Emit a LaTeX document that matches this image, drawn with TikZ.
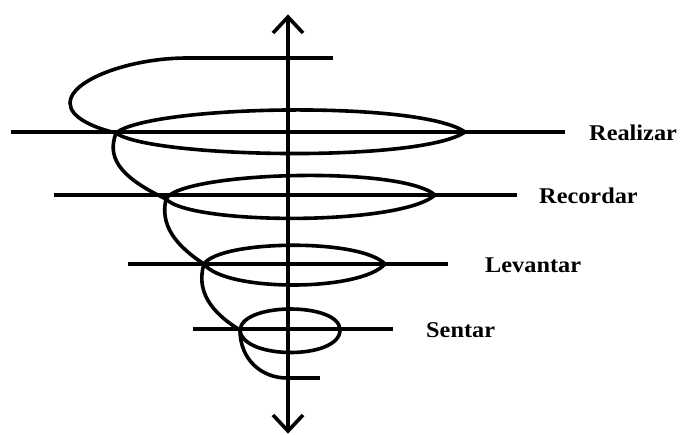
\documentclass[tikz,border=0pt]{standalone}
\usepackage{fontspec}
\setmainfont{Liberation Serif}
\begin{document}
\begin{tikzpicture}[x=1pt,y=-1pt,
  stroke/.style={line width=3.6pt,line cap=butt,line join=round},
  levelline/.style={line width=3.4pt},
  lbl/.style={anchor=base west,inner sep=0pt,font=\bfseries\fontsize{22.5}{22.5}\selectfont,xscale=1.08}]
\fill[white] (0,0) rectangle (682,434);
\useasboundingbox (0,0) rectangle (682,434);
% crossing points of the spiral
\coordinate (top0) at (187,58);
\coordinate (top1) at (333,58);
\coordinate (p1) at (116,133);
\coordinate (r1) at (465,132);
\coordinate (p2) at (166,199);
\coordinate (r2) at (435,195);
\coordinate (p3) at (204,264);
\coordinate (r3) at (385,264);
\coordinate (p4) at (240,330);
\coordinate (r4) at (340,330);
\coordinate (bot0) at (287,378);
\coordinate (bot1) at (320,378);
% level lines
\coordinate (a1) at (11,132);  \coordinate (b1) at (565,132);
\coordinate (a2) at (54,195);  \coordinate (b2) at (517,195);
\coordinate (a3) at (128,264); \coordinate (b3) at (448,264);
\coordinate (a4) at (193,329); \coordinate (b4) at (393,329);
\draw[levelline] (a1) -- (b1);
\draw[levelline] (a2) -- (b2);
\draw[levelline] (a3) -- (b3);
\draw[levelline] (a4) -- (b4);
\draw[levelline] (top0) -- (top1);
\draw[levelline] (bot0) -- (bot1);
% labels
\node[lbl] (realizar) at (589,140) {Realizar};
\node[lbl] (recordar) at (539,203) {Recordar};
\node[lbl] (levantar) at (485,272) {Levantar};
\node[lbl] (sentar) at (426,337) {Sentar};
% vertical axis with open arrow heads
\coordinate (tipT) at (288,17);
\coordinate (tipB) at (288,431);
\draw[stroke] (tipT) -- (tipB);
\draw[stroke,line join=miter] (273,33) -- (tipT) -- (303,33);
\draw[stroke,line join=miter] (273,415) -- (tipB) -- (303,415);
% spiral: top loop
\draw[stroke] (top0) .. controls (130,58) and (70,80) .. (70,103)
  .. controls (70,118) and (95,128) .. (p1);
% level loops
\draw[stroke] (p1) .. controls (150,105) and (420,100) .. (r1)
  .. controls (420,163) and (150,158) .. (p1);
\draw[stroke] (p2) .. controls (180,172) and (400,165) .. (r2)
  .. controls (400,226) and (190,225) .. (p2);
\draw[stroke] (p3) .. controls (220,240) and (360,238) .. (r3)
  .. controls (360,292) and (225,292) .. (p3);
\draw[stroke] (p4) .. controls (242,302) and (340,302) .. (r4)
  .. controls (340,360) and (242,360) .. (p4);
% descending connectors
\draw[stroke] (p1) .. controls (108,155) and (115,175) .. (p2);
\draw[stroke] (p2) .. controls (160,225) and (175,245) .. (p3);
\draw[stroke] (p3) .. controls (196,290) and (210,312) .. (p4);
\draw[stroke] (p4) .. controls (240,360) and (262,378) .. (bot0);
\end{tikzpicture}
\end{document}
